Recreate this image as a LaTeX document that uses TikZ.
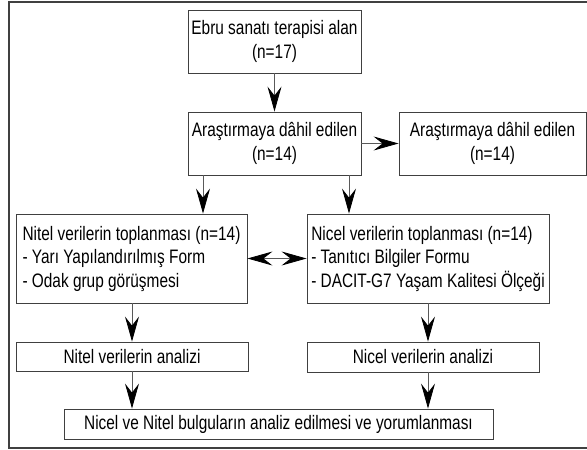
\documentclass[tikz,border=0pt]{standalone}
\usepackage{fontspec}
\setmainfont{Liberation Sans}[FakeStretch=0.79]
\usetikzlibrary{arrows.meta}
\begin{document}
\begin{tikzpicture}[x=1pt,y=-1pt,
  box/.style={draw=black!75,line width=0.9pt,inner sep=0pt,font=\fontsize{19.5}{23.5}\selectfont,align=center},
  lbox/.style={box,align=left},
  conn/.style={draw=black!65,line width=0.8pt,-{Stealth[length=25pt,width=14pt,inset=9pt,color=black]}},
  dconn/.style={draw=black!65,line width=0.8pt,{Stealth[length=25pt,width=14pt,inset=9pt,color=black]}-{Stealth[length=25pt,width=14pt,inset=9pt,color=black]}}]
\useasboundingbox (0,0) rectangle (587,450);
\draw[draw=black!75,line width=1.4pt] (9,2) rectangle (600,448);
\node[box,minimum width=173pt,minimum height=63pt] (b1) at (274.5,41.5) {Ebru sanatı terapisi alan\\(n=17)};
\node[box,minimum width=173pt,minimum height=63pt] (b2) at (274.5,143.5) {Araştırmaya dâhil edilen\\(n=14)};
\node[box,minimum width=187pt,minimum height=63pt] (b3) at (492.5,143.5) {Araştırmaya dâhil edilen\\(n=14)};
\node[lbox,minimum width=231pt,minimum height=89pt] (b4) at (131.5,258.5) {Nitel verilerin toplanması (n=14)\\- Yarı Yapılandırılmış Form\\- Odak grup görüşmesi};
\node[lbox,minimum width=242pt,minimum height=89pt] (b5) at (428,258.5) {Nicel verilerin toplanması (n=14)\\- Tanıtıcı Bilgiler Formu\\- DACIT-G7 Yaşam Kalitesi Ölçeği};
\node[box,minimum width=232pt,minimum height=29pt] (b6) at (132,356.5) {Nitel verilerin analizi};
\node[box,minimum width=232pt,minimum height=30pt] (b7) at (423,357) {Nicel verilerin analizi};
\node[box,minimum width=429pt,minimum height=30pt] (b8) at (278.5,424) {Nicel ve Nitel bulguların analiz edilmesi ve yorumlanması};
\draw[conn] (b1) -- (b2);
\draw[conn] (b2) -- (b3);
\draw[conn] (b2.south -| 203,0) -- (b4.north -| 203,0);
\draw[conn] (b2.south -| 349,0) -- (b5.north -| 349,0);
\draw[dconn] (b4) -- (b5);
\draw[conn] (b4.south -| 132,0) -- (b6.north -| 132,0);
\draw[conn] (b5.south -| 428,0) -- (b7.north -| 428,0);
\draw[conn] (b6.south -| 132,0) -- (b8.north -| 132,0);
\draw[conn] (b7.south -| 428,0) -- (b8.north -| 428,0);
\end{tikzpicture}
\end{document}
